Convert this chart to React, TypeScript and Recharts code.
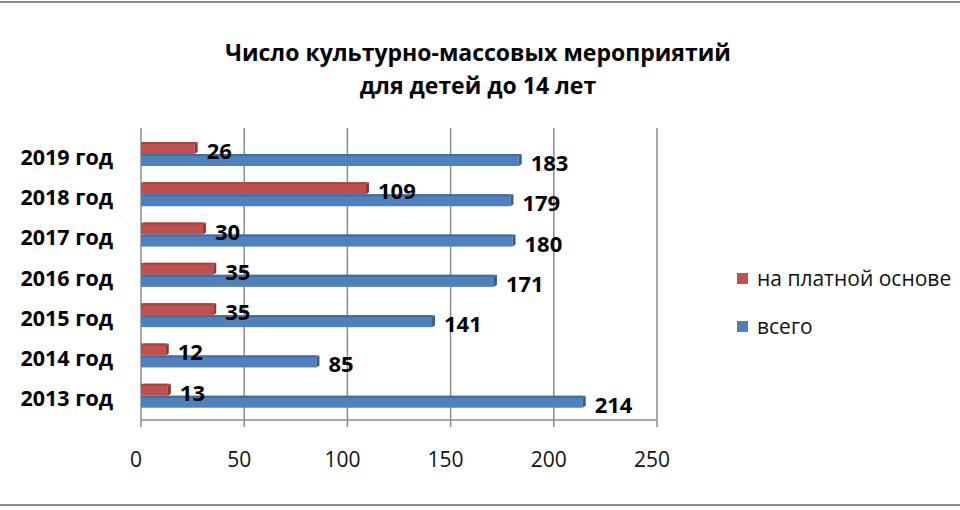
import React from 'react';
import {
  BarChart,
  Bar,
  XAxis,
  YAxis,
  CartesianGrid,
  Legend,
  LabelList,
} from 'recharts';

// Значения, сверху вниз
const YEARS = ['2019 год', '2018 год', '2017 год', '2016 год', '2015 год', '2014 год', '2013 год'];
const PAID = [26, 109, 30, 35, 35, 12, 13];
const TOTAL = [183, 179, 180, 171, 141, 85, 214];
const X_TICKS = [0, 50, 100, 150, 200, 250];

const SERIES = [
  { key: 'paid', name: 'на платной основе', fill: '#C0504D', top: '#A8423F', side: '#8C3836' },
  { key: 'total', name: 'всего', fill: '#4F81BD', top: '#3E6CA3', side: '#385D8A' },
];

const data = YEARS.map((year, i) => ({ year, paid: PAID[i], total: TOTAL[i] }));

const FONT = '"Open Sans", sans-serif';
const GRID = '#8c8c8c';

// прямоугольник с "объёмом": верхняя грань и торец
function Bar3D(props: any) {
  const { x, y, width, height, fill, top, side } = props;
  if (!width || width <= 0) return null;
  const d = 3;
  return (
    <g>
      <rect x={x} y={y} width={width} height={height} fill={fill} />
      <polygon
        points={`${x},${y + 2} ${x + d},${y} ${x + width + d},${y} ${x + width},${y + 2}`}
        fill={top}
      />
      <polygon
        points={`${x + width},${y + 2} ${x + width + d},${y} ${x + width + d},${y + height - 2} ${x + width},${y + height}`}
        fill={side}
      />
    </g>
  );
}

function ValueLabel(props: any) {
  const { x, y, width, height, value } = props;
  return (
    <text
      x={x + width + 12}
      y={y + height / 2 + 2}
      dominantBaseline="central"
      textAnchor="start"
      fontFamily={FONT}
      fontWeight={700}
      fontSize={22}
      fill="#000"
    >
      {value}
    </text>
  );
}

function LegendBox() {
  return (
    <div style={{ fontFamily: FONT, fontSize: 21, color: '#111' }}>
      {SERIES.map((s) => (
        <div key={s.key} style={{ display: 'flex', alignItems: 'center', height: 48 }}>
          <span style={{ width: 11, height: 11, background: s.fill, marginRight: 9, display: 'inline-block' }} />
          <span>{s.name}</span>
        </div>
      ))}
    </div>
  );
}

export default function App() {
  return (
    <div style={{ position: 'absolute', left: 0, top: 0, width: 960, height: 510, background: '#fff' }}>
      <div style={{ position: 'absolute', left: 0, right: 0, top: 1, height: 2, background: GRID }} />
      <div style={{ position: 'absolute', left: 0, right: 0, top: 504, height: 2, background: GRID }} />
      <div
        style={{
          position: 'absolute',
          left: 0,
          width: 956,
          top: 36,
          textAlign: 'center',
          fontFamily: FONT,
          fontWeight: 700,
          fontSize: 23,
          lineHeight: '33px',
          color: '#000',
        }}
      >
        Число культурно-массовых мероприятий
        <br />
        для детей до 14 лет
      </div>
      <BarChart
        width={960}
        height={510}
        data={data}
        layout="vertical"
        margin={{ top: 128, right: 303, left: 0, bottom: 50 }}
        barGap={0}
        barSize={12}
      >
        <CartesianGrid vertical horizontal={false} stroke={GRID} strokeWidth={1.5} />
        <XAxis
          type="number"
          domain={[0, 250]}
          ticks={X_TICKS}
          height={40}
          axisLine={{ stroke: GRID, strokeWidth: 1.5 }}
          tickLine={{ stroke: GRID, strokeWidth: 1.5 }}
          tickSize={7}
          tickMargin={25}
          tick={{ fontFamily: FONT, fontSize: 21, fill: '#111', dx: -5 }}
        />
        <YAxis
          type="category"
          dataKey="year"
          width={141}
          padding={{ top: 6, bottom: 4 }}
          axisLine={false}
          tickLine={false}
          tickSize={0}
          tickMargin={28}
          tick={{ fontFamily: FONT, fontSize: 21.5, fontWeight: 700, fill: '#000', dy: 3 }}
        />
        <Legend
          layout="horizontal"
          verticalAlign="middle"
          align="center"
          wrapperStyle={{ left: 737, top: 254, width: 223 }}
          content={<LegendBox />}
        />
        {SERIES.map((s) => (
          <Bar
            key={s.key}
            dataKey={s.key}
            name={s.name}
            fill={s.fill}
            isAnimationActive={false}
            shape={(p: any) => <Bar3D {...p} top={s.top} side={s.side} />}
          >
            <LabelList dataKey={s.key} content={<ValueLabel />} />
          </Bar>
        ))}
      </BarChart>
    </div>
  );
}
